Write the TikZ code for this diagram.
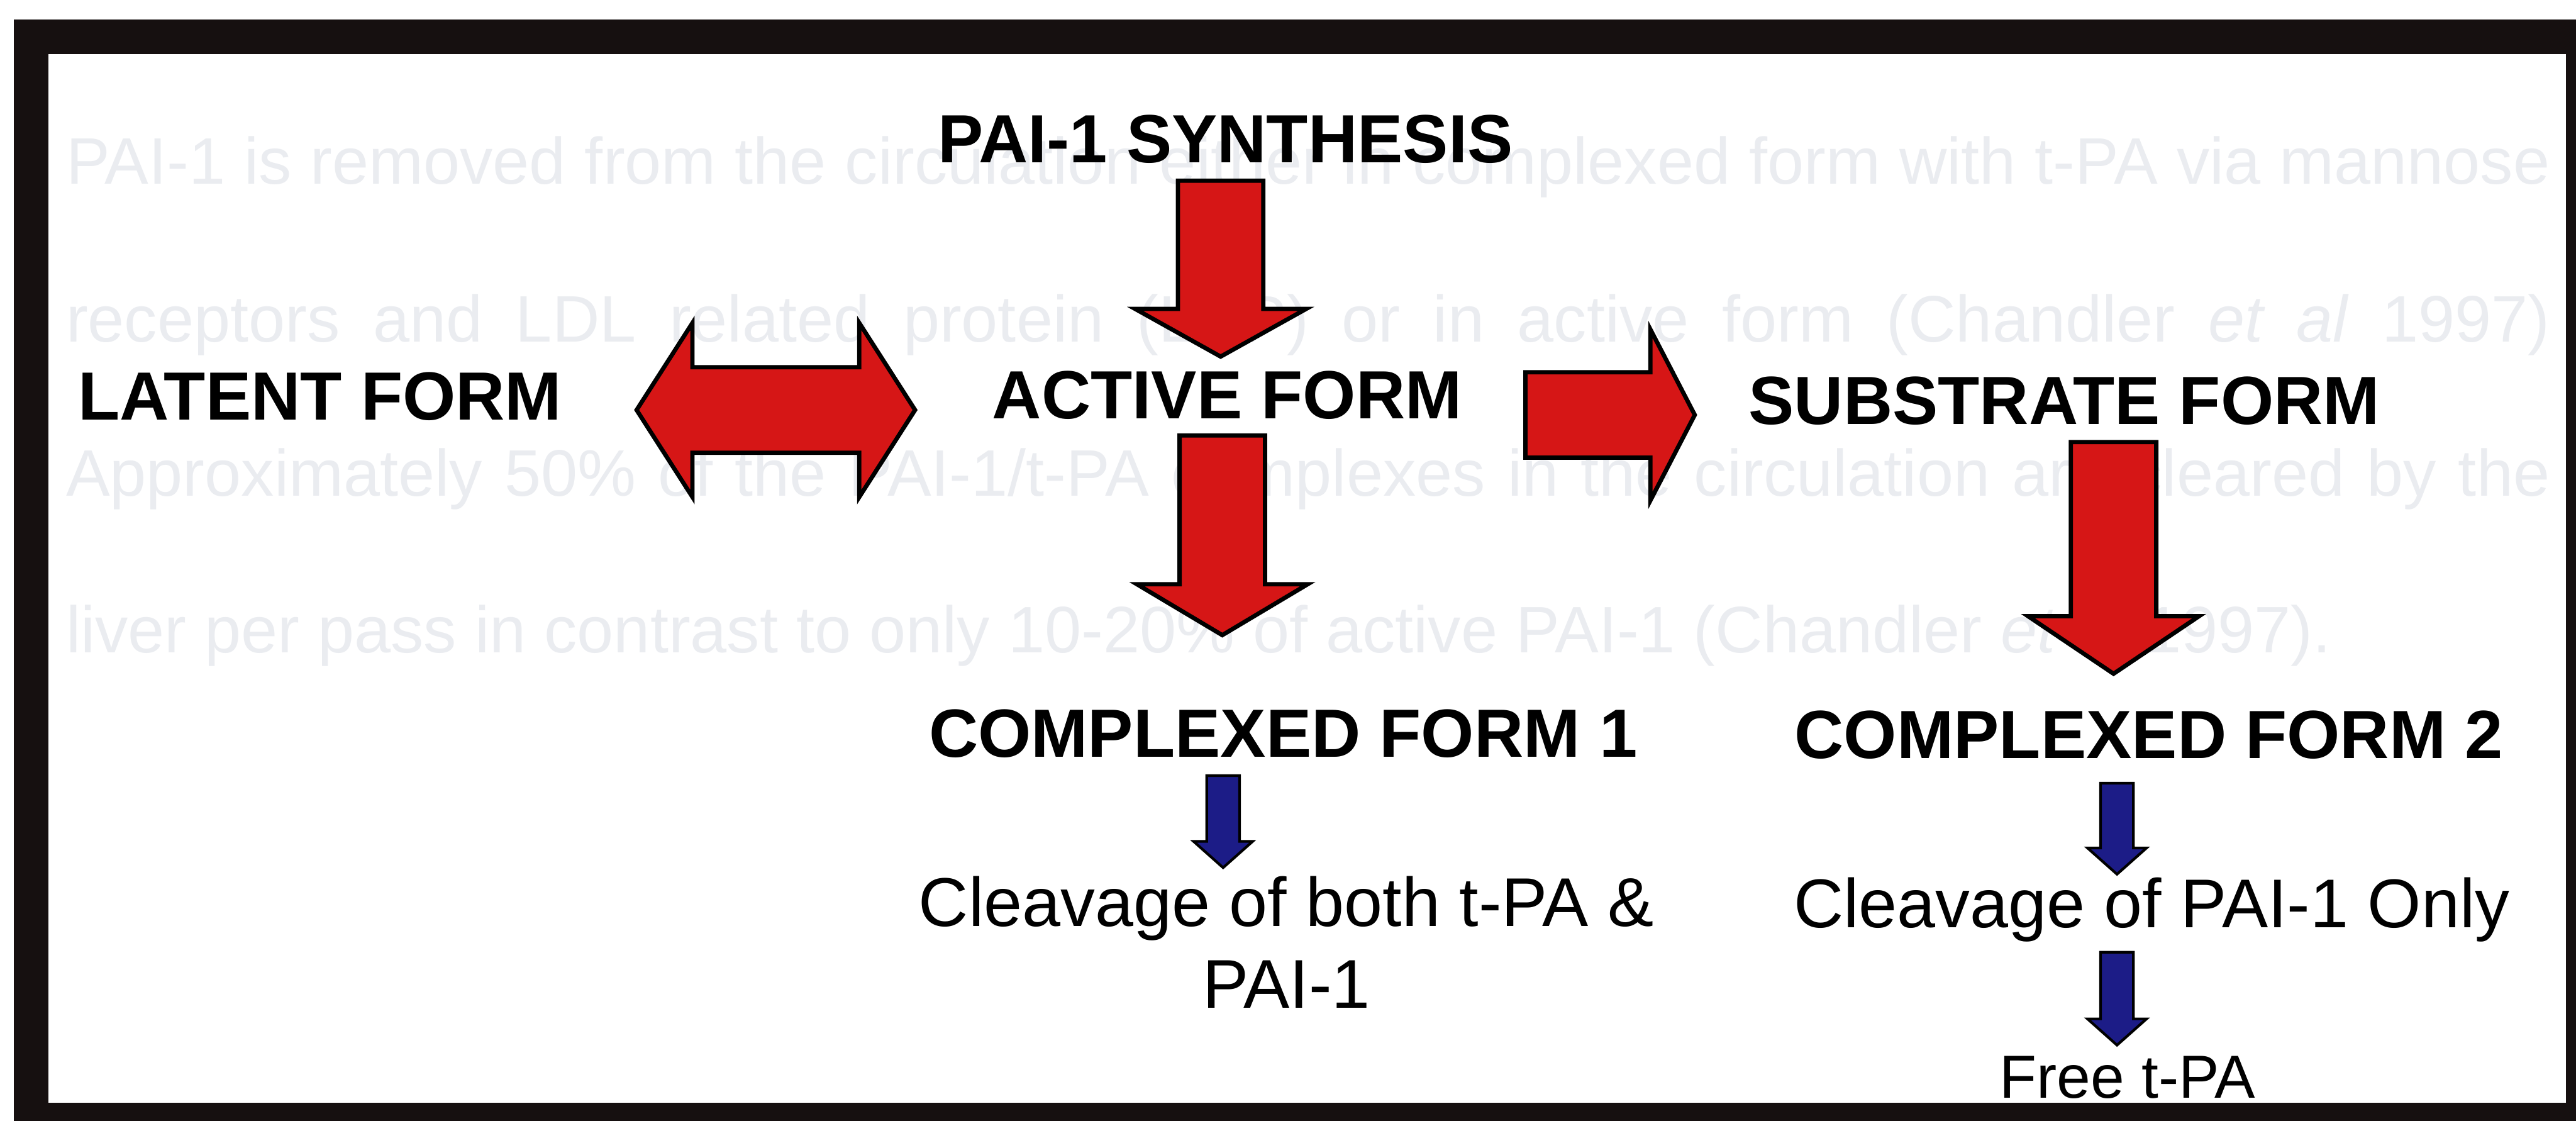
\documentclass[tikz,border=0pt]{standalone}
\usepackage{fontspec}
\setmainfont{Liberation Sans}
\definecolor{arrowred}{RGB}{214,22,22}
\definecolor{arrowblue}{RGB}{28,28,135}
\definecolor{ghost}{RGB}{234,236,240}
\definecolor{framecol}{RGB}{22,16,16}

\begin{document}
\begin{tikzpicture}[x=1pt, y=-1pt,
    every node/.style={inner sep=0pt, anchor=base},
    title/.style={font=\fontsize{41.5}{50}\selectfont\bfseries},
    note/.style={font=\fontsize{42}{49.7}\selectfont, align=center},
    faint/.style={anchor=base west, text=ghost, font=\fontsize{40}{50}\selectfont},
    shaftw/.store in=\shaftw, headw/.store in=\headw, headl/.store in=\headl,
    redarr/.style={draw=black, fill=arrowred, line width=2.6pt, line join=miter,
        shaftw=26, headw=52, headl=31},
    bluearr/.style={draw=black, fill=arrowblue, line width=1.6pt, line join=miter,
        shaftw=10, headw=18, headl=16},
    downblock/.style={to path={
        -- ([xshift=-\shaftw]\tikztostart)
        -- ([xshift=-\shaftw, yshift=\headl]\tikztotarget)
        -- ([xshift=-\headw, yshift=\headl]\tikztotarget)
        -- (\tikztotarget)
        -- ([xshift=\headw, yshift=\headl]\tikztotarget)
        -- ([xshift=\shaftw, yshift=\headl]\tikztotarget)
        -- ([xshift=\shaftw]\tikztostart) -- cycle}},
    rightblock/.style={to path={
        -- ([yshift=\shaftw]\tikztostart)
        -- ([xshift=-\headl, yshift=\shaftw]\tikztotarget)
        -- ([xshift=-\headl, yshift=\headw]\tikztotarget)
        -- (\tikztotarget)
        -- ([xshift=-\headl, yshift=-\headw]\tikztotarget)
        -- ([xshift=-\headl, yshift=-\shaftw]\tikztotarget)
        -- ([yshift=-\shaftw]\tikztostart) -- cycle}},
    bothblock/.style={to path={
        -- ([xshift=\headl, yshift=\headw]\tikztostart)
        -- ([xshift=\headl, yshift=\shaftw]\tikztostart)
        -- ([xshift=-\headl, yshift=\shaftw]\tikztotarget)
        -- ([xshift=-\headl, yshift=\headw]\tikztotarget)
        -- (\tikztotarget)
        -- ([xshift=-\headl, yshift=-\headw]\tikztotarget)
        -- ([xshift=-\headl, yshift=-\shaftw]\tikztotarget)
        -- ([xshift=\headl, yshift=-\shaftw]\tikztostart)
        -- ([xshift=\headl, yshift=-\headw]\tikztostart) -- cycle}}
    ]
\useasboundingbox (0,0) rectangle (1568,682);
\clip (0,0) rectangle (1568,682);
\fill[white] (0,0) rectangle (1568,682);

% text showing through from the back of the sheet
\node[faint] (g1) at (40,112) {\makebox[1512pt][s]{PAI-1 is removed from the circulation either in complexed form with t-PA via mannose}};
\node[faint] (g2) at (40,208) {\makebox[1512pt][s]{receptors and LDL related protein (LRP) or in active form (Chandler \textit{et al} 1997)}};
\node[faint] (g3) at (40,302) {\makebox[1512pt][s]{Approximately 50\% of the PAI-1/t-PA complexes in the circulation are cleared by the}};
\node[faint] (g4) at (40,397) {liver per pass in contrast to only 10-20\% of active PAI-1 (Chandler \textit{et al} 1997).};

% frame
\draw[framecol, line width=21pt] (18.8,22.5) rectangle (1572.5,681.5);

% forms
\node[title] (syn) at (746,98.8)    {PAI-1 SYNTHESIS};
\node[title] (lat) at (194.8,255.6) {LATENT FORM};
\node[title] (act) at (747,254.6)   {ACTIVE FORM};
\node[title] (sub) at (1256.5,258.3){SUBSTRATE FORM};
\node[title] (cf1) at (781,460.9)   {COMPLEXED FORM 1};
\node[title] (cf2) at (1308,461.6)  {COMPLEXED FORM 2};
\node[note] (cut1) at (783,613.4)   {Cleavage of both t-PA \&\\PAI-1};
\node[note] (cut2) at (1309.7,564.6){Cleavage of PAI-1 Only};
\node[note, font=\fontsize{37}{44}\selectfont] (free) at (1295,668.2) {Free t-PA};

% arrow ends
\coordinate (syn-o) at (743,110);    \coordinate (act-i) at (743,217);
\coordinate (act-o) at (744,265);    \coordinate (cf1-i) at (744,386.5);
\coordinate (sub-o) at (1286.5,269); \coordinate (cf2-i) at (1286.5,410);
\coordinate (act-r) at (928.5,252.5);\coordinate (sub-i) at (1031.6,252.5);
\coordinate (lat-r) at (387.5,249.5);\coordinate (act-l) at (557,249.5);
\coordinate (cf1-o) at (744.5,472);  \coordinate (cut1-i) at (744.5,528);
\coordinate (cf2-o) at (1288.6,476.6);\coordinate (cut2-i) at (1288.6,532);
\coordinate (cut2-o) at (1288.6,579.5);\coordinate (free-i) at (1288.6,636);

\draw[redarr, downblock, headl=29] (syn-o) to (act-i);
\draw[redarr, downblock, headl=31] (act-o) to (cf1-i);
\draw[redarr, downblock, headl=35] (sub-o) to (cf2-i);
\draw[redarr, rightblock, headl=27] (act-r) to (sub-i);
\draw[redarr, bothblock, headl=34, headw=53] (lat-r) to (act-l);
\draw[bluearr, downblock] (cf1-o) to (cut1-i);
\draw[bluearr, downblock] (cf2-o) to (cut2-i);
\draw[bluearr, downblock] (cut2-o) to (free-i);
\end{tikzpicture}
\end{document}
